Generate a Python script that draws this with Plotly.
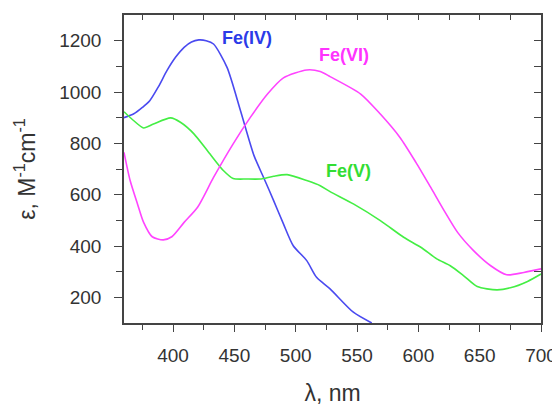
import plotly.graph_objects as go

fe4_x = [360, 368, 375, 381, 388, 395, 402, 409, 415, 421, 427, 433, 444, 455, 466, 474, 482, 490, 498, 509, 517, 528, 547, 562]
fe4_y = [900, 915, 940, 966, 1020, 1083, 1135, 1174, 1195, 1203, 1200, 1187, 1096, 927, 752, 665, 577, 486, 401, 343, 278, 233, 142, 100]

fe5_x = [360, 368, 376, 384, 398, 406, 417, 430, 441, 449, 460, 471, 482, 493, 509, 520, 528, 547, 569, 588, 602, 615, 626, 637, 648, 664, 675, 689, 700]
fe5_y = [923, 888, 860, 875, 899, 882, 837, 759, 694, 663, 661, 661, 672, 678, 655, 635, 612, 564, 499, 434, 395, 350, 323, 284, 242, 229, 237, 262, 291]

fe6_x = [360, 365, 371, 376, 383, 392, 399, 409, 420, 433, 449, 463, 477, 490, 509, 520, 528, 553, 569, 585, 598, 610, 621, 632, 645, 659, 672, 686, 700]
fe6_y = [765, 655, 564, 492, 436, 424, 436, 492, 551, 667, 798, 901, 992, 1055, 1086, 1080, 1060, 992, 914, 823, 726, 629, 538, 453, 382, 323, 288, 297, 311]

labels = ["Fe(IV)", "Fe(V)", "Fe(VI)"]
label_x = [460, 543, 539]
label_y = [1209, 692, 1144]

line_colors = ["#4a4af0", "#44ee44", "#ff44ff"]
text_colors = ["#2b3be8", "#33dd33", "#ff33ff"]

fig = go.Figure()
for xs, ys, c in [(fe4_x, fe4_y, line_colors[0]), (fe5_x, fe5_y, line_colors[1]), (fe6_x, fe6_y, line_colors[2])]:
    fig.add_trace(go.Scatter(x=xs, y=ys, mode="lines", line=dict(color=c, width=1.6, shape="spline", smoothing=0.7),
                             showlegend=False, hoverinfo="skip"))

# invisible trace for mirror axes
fig.add_trace(go.Scatter(x=[360, 700], y=[100, 1300], xaxis="x2", yaxis="y2", mode="lines",
                         line=dict(color="rgba(0,0,0,0)"), showlegend=False, hoverinfo="skip"))

for t, xx, yy, c in zip(labels, label_x, label_y, text_colors):
    fig.add_annotation(x=xx, y=yy, text="<b>%s</b>" % t, showarrow=False,
                       font=dict(family="Liberation Sans, Arial", size=18, color=c))

axis_common = dict(showgrid=False, zeroline=False, showline=True, linecolor="#444", linewidth=1.5,
                   tickcolor="#444", tickwidth=1.3, automargin=False)

fig.update_layout(
    width=552, height=398,
    margin=dict(l=116, r=19, t=7, b=83),
    plot_bgcolor="white", paper_bgcolor="white",
    font=dict(family="Liberation Sans, Arial", size=19, color="#333"),
    xaxis=dict(range=[360, 700], tickvals=[400, 450, 500, 550, 600, 650, 700], ticks="outside", ticklen=7,
               mirror=True, ticklabelstandoff=7,
               minor=dict(tickvals=[375, 425, 475, 525, 575, 625, 675], ticks="outside", ticklen=5, tickcolor="#444", tickwidth=1.3),
               title=dict(text="λ, nm", font=dict(size=23), standoff=20), **axis_common),
    yaxis=dict(range=[100, 1300], tickvals=[200, 400, 600, 800, 1000, 1200], ticks="outside", ticklen=8,
               mirror=True, ticklabelstandoff=9,
               minor=dict(tickvals=[300, 500, 700, 900, 1100], ticks="outside", ticklen=6, tickcolor="#444", tickwidth=1.3),
               title=dict(text="ε, M<sup>-1</sup>cm<sup>-1</sup>", font=dict(size=23), standoff=17), **axis_common),
    xaxis2=dict(range=[360, 700], overlaying="x", anchor="y", side="top", ticks="inside", ticklen=5, showticklabels=False,
                tickvals=[375, 400, 425, 450, 475, 500, 525, 550, 575, 600, 625, 650, 675], **axis_common),
    yaxis2=dict(range=[100, 1300], overlaying="y", anchor="x", side="right", ticks="inside", ticklen=7, showticklabels=False,
                tickvals=[200, 300, 400, 500, 600, 700, 800, 900, 1000, 1100, 1200], **axis_common),
)

fig.write_html("out.html")
